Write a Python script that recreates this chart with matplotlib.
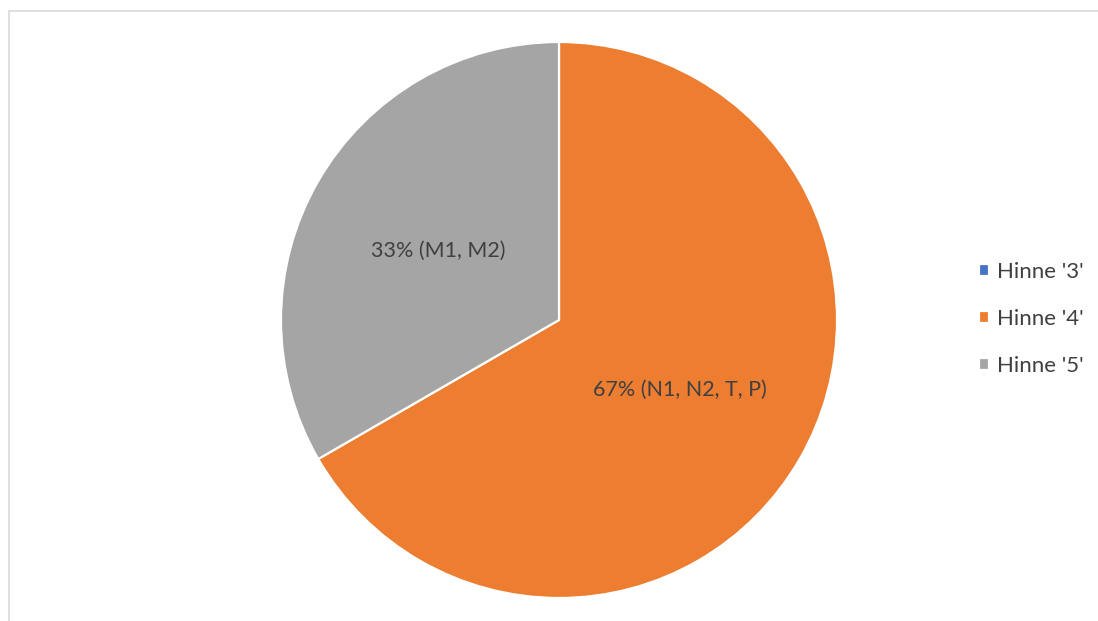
import numpy as np
import matplotlib.pyplot as plt
from matplotlib.patches import Rectangle

# data
labels = ["Hinne '3'", "Hinne '4'", "Hinne '5'"]
shares = [0, 4, 2]
pupils = ["", "N1, N2, T, P", "M1, M2"]
colors = ['#4472C4', '#ED7D31', '#A5A5A5']

plt.rcParams['font.family'] = ['Lato', 'DejaVu Sans']
text_col = '#404040'

fig = plt.figure(figsize=(10.98, 6.21), dpi=100)

# chart area border (only top and left edges fall inside the canvas)
fig.patches.append(Rectangle((8.5 / 1098, -0.1), 1.2, (621 - 10.5) / 621 + 0.1,
                             transform=fig.transFigure, fill=False,
                             edgecolor='#D9D9D9', linewidth=1.2))

ax = fig.add_axes([281 / 1098, 23 / 621, 556 / 1098, 556 / 621])

total = sum(shares)

wedges, _ = ax.pie(shares, colors=colors, startangle=90, counterclock=False,
                   wedgeprops=dict(edgecolor='white', linewidth=1.6))

# percentage labels halfway out along each wedge
for w, v, who in zip(wedges, shares, pupils):
    if v == 0:
        continue
    mid = np.deg2rad((w.theta1 + w.theta2) / 2)
    ax.text(0.5 * np.cos(mid), 0.5 * np.sin(mid),
            f"{round(100 * v / total)}% ({who})",
            ha='center', va='center', fontsize=15.5, color=text_col)

ax.set_xlim(-1, 1)
ax.set_ylim(-1, 1)
ax.set_aspect('equal')
ax.axis('off')

fig.legend(wedges, labels, loc='center left',
           bbox_to_anchor=(979 / 1098, 302 / 621), frameon=False,
           fontsize=16, labelcolor=text_col, handlelength=0.45,
           handleheight=0.45, handletextpad=0.35, labelspacing=1.2,
           borderpad=0, borderaxespad=0)

fig.savefig('out.png', dpi=100)
